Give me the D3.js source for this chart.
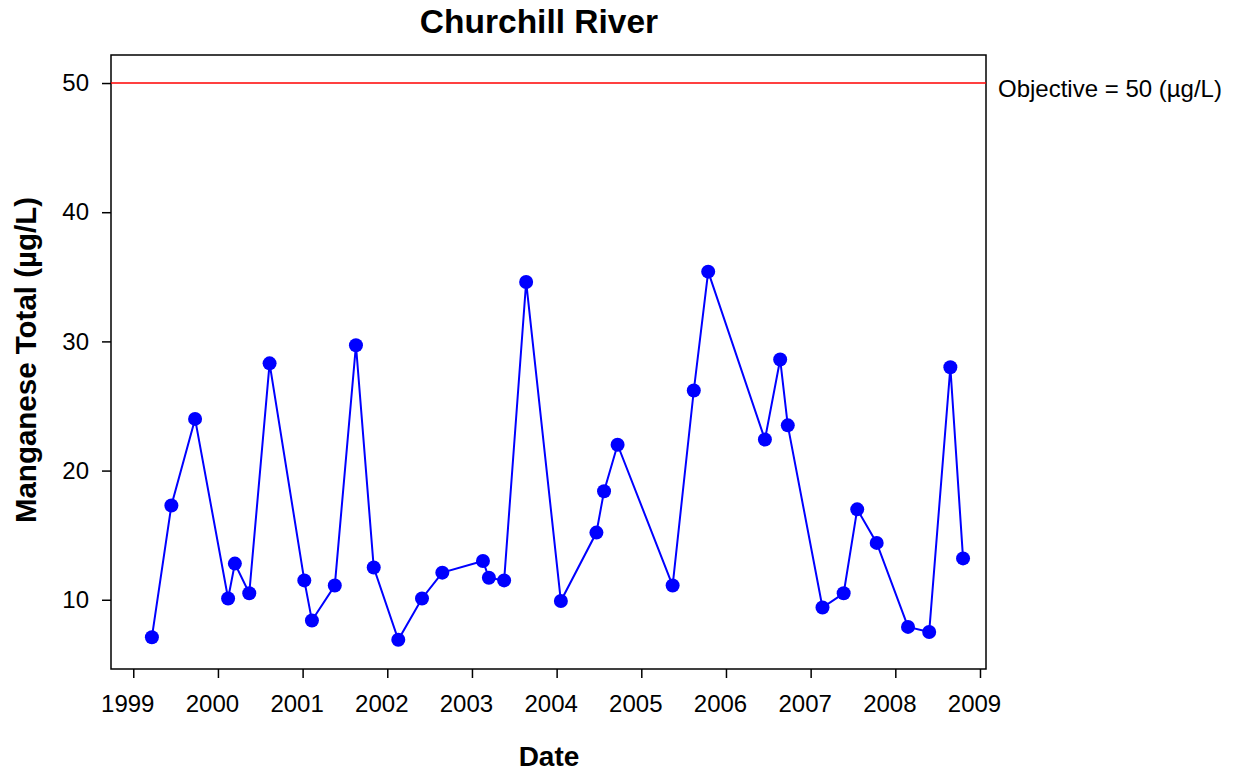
<!DOCTYPE html>
<html>
<head>
<meta charset="utf-8">
<script src="https://cdn.jsdelivr.net/npm/d3@7"></script>
<style>
  body { margin: 0; background: #fff; }
  svg { display: block; font-family: Arial, "Liberation Sans", sans-serif; }
</style>
</head>
<body>
<svg id="chart" width="1238" height="773"></svg>
<script>
// Sampling dates (decimal years) and Manganese Total (µg/L)
const dates = [1999.22, 1999.45, 1999.73, 2000.12, 2000.20, 2000.37, 2000.61,
  2001.02, 2001.11, 2001.38, 2001.63, 2001.84, 2002.13, 2002.41, 2002.65,
  2003.13, 2003.20, 2003.38, 2003.64, 2004.05, 2004.47, 2004.56, 2004.72,
  2005.37, 2005.62, 2005.79, 2006.46, 2006.64, 2006.73, 2007.14, 2007.39,
  2007.55, 2007.78, 2008.15, 2008.40, 2008.65, 2008.80];
const values = [7.1, 17.3, 24.0, 10.1, 12.8, 10.5, 28.3,
  11.5, 8.4, 11.1, 29.7, 12.5, 6.9, 10.1, 12.1,
  13.0, 11.7, 11.5, 34.6, 9.9, 15.2, 18.4, 22.0,
  11.1, 26.2, 35.4, 22.4, 28.6, 23.5, 9.4, 10.5,
  17.0, 14.4, 7.9, 7.5, 28.0, 13.2];
const xTicks = [1999, 2000, 2001, 2002, 2003, 2004, 2005, 2006, 2007, 2008, 2009];
const yTicks = [10, 20, 30, 40, 50];
const objective = 50;

const L = 111, R = 986, T = 55, B = 669;
const FONT = "Arial, 'Liberation Sans', sans-serif";
const svg = d3.select("#chart");

const x = d3.scaleLinear().domain([1998.737, 2009.071]).range([L, R]);
const y = d3.scaleLinear().domain([4.64, 52.17]).range([B, T]);

// Frame
svg.append("rect").attr("x", L).attr("y", T).attr("width", R - L).attr("height", B - T)
  .attr("fill", "none").attr("stroke", "#000").attr("stroke-width", 1.5);

// X axis
const xAxis = svg.append("g").attr("transform", `translate(0,${B})`)
  .call(d3.axisBottom(x).tickValues(xTicks).tickFormat(d3.format("d")).tickSizeOuter(0).tickSize(9).tickPadding(17));
xAxis.select(".domain").remove();
xAxis.selectAll("line").attr("stroke-width", 1.5);
xAxis.selectAll("text").attr("font-size", 24).attr("font-family", FONT)
  .attr("fill", "#000").attr("dx", -6);

// Y axis
const yAxis = svg.append("g").attr("transform", `translate(${L},0)`)
  .call(d3.axisLeft(y).tickValues(yTicks).tickSizeOuter(0).tickSize(9).tickPadding(13));
yAxis.select(".domain").remove();
yAxis.selectAll("line").attr("stroke-width", 1.5);
yAxis.selectAll("text").attr("font-size", 24).attr("font-family", FONT)
  .attr("fill", "#000");

// Objective line
svg.append("line").attr("x1", L).attr("x2", R).attr("y1", y(objective)).attr("y2", y(objective))
  .attr("stroke", "#ff0000").attr("stroke-width", 1.5);
svg.append("text").attr("x", 998).attr("y", y(objective) + 13.5).attr("font-size", 24)
  .text("Objective = 50 (µg/L)");

// Data
const data = dates.map((d, i) => ({ d, v: values[i] }));
svg.append("path").datum(data)
  .attr("d", d3.line().x(p => x(p.d)).y(p => y(p.v)))
  .attr("fill", "none").attr("stroke", "#0000ff").attr("stroke-width", 2);
svg.selectAll("circle.pt").data(data).enter().append("circle")
  .attr("class", "pt").attr("cx", p => x(p.d)).attr("cy", p => y(p.v)).attr("r", 7)
  .attr("fill", "#0000ff");

// Titles
svg.append("text").attr("x", 539).attr("y", 33).attr("text-anchor", "middle")
  .attr("font-size", 33.5).attr("font-weight", "bold").text("Churchill River");
svg.append("text").attr("x", 549).attr("y", 766).attr("text-anchor", "middle")
  .attr("font-size", 28).attr("font-weight", "bold").text("Date");
svg.append("text").attr("transform", "translate(36,360) rotate(-90)").attr("text-anchor", "middle")
  .attr("font-size", 29.5).attr("font-weight", "bold").text("Manganese Total (µg/L)");
</script>
</body>
</html>
